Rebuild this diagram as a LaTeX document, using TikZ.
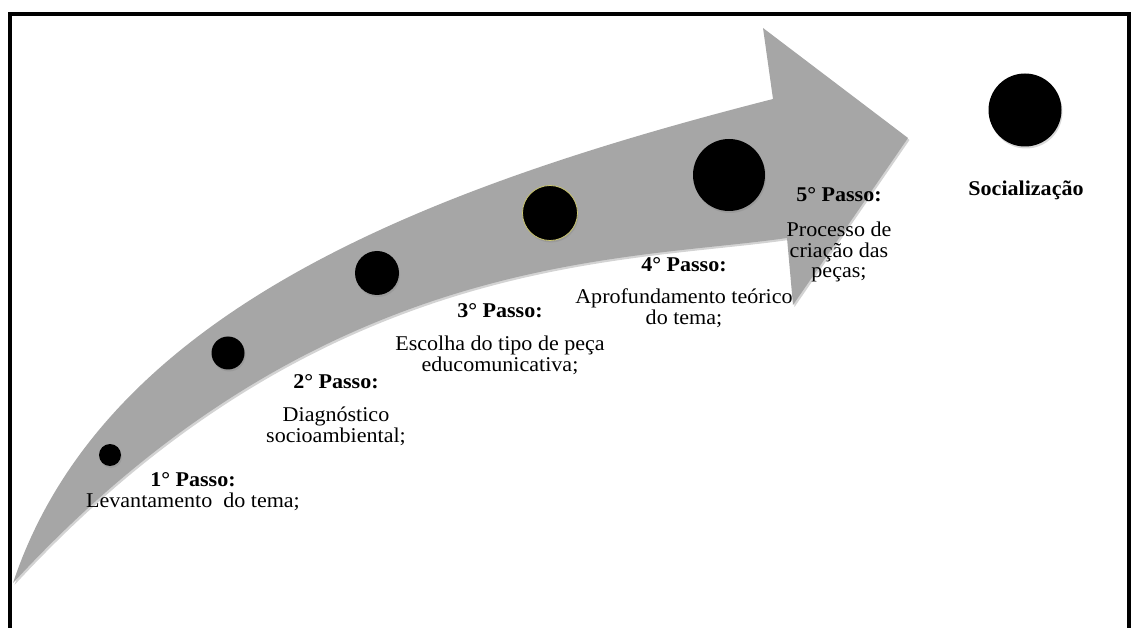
\documentclass[tikz,border=0pt]{standalone}
\usepackage{fontspec}
\setmainfont{Liberation Serif}[FakeStretch=1.05]
\usetikzlibrary{shadows}
\definecolor{band}{HTML}{A6A6A6}

\begin{document}
\begin{tikzpicture}[x=1pt,y=-1pt,
    dot/.style={circle,fill=black,inner sep=0pt,
      drop shadow={opacity=.3,shadow xshift=1pt,shadow yshift=-2pt}},
    passo/.style={align=center,inner sep=0pt,anchor=north,
      font=\fontsize{21}{20.5}\selectfont}]
  \useasboundingbox (0,0) rectangle (1136,628);
  % frame
  \draw[line width=4pt] (10,628) -- (10,14.5) -- (1129,14.5) -- (1129,628);
  % curved arrow
  \fill[band,drop shadow={opacity=.35,shadow xshift=1.5pt,shadow yshift=-2pt}]
    (13,583) .. controls (103,313) and (420,189) .. (773,99)
    -- (763,28) -- (908,138) -- (793,305) -- (787,238)
    .. controls (620,262) and (320,250) .. (13,583) -- cycle;
  % steps on the arrow
  \node[dot,minimum size=22] (s1) at (110,455) {};
  \node[dot,minimum size=33] (s2) at (228,353) {};
  \node[dot,minimum size=44] (s3) at (377,273) {};
  \node[dot,minimum size=55,draw=olive!45,line width=.8pt] (s4) at (550,213) {};
  \node[dot,minimum size=72] (s5) at (729,175) {};
  \node[dot,minimum size=73] (s6) at (1025,110) {};
  % labels
  \node[passo] (p1) at (193,472.8) {\textbf{1° Passo:}\\Levantamento\ \ do tema;};
  \node[passo] (p2) at (336,374.8) {\textbf{2° Passo:}\\[12.5pt]Diagnóstico\\socioambiental;};
  \node[passo] (p3) at (500,303.8) {\textbf{3° Passo:}\\[12.5pt]Escolha do tipo de peça\\educomunicativa;};
  \node[passo] (p4) at (684,257.8) {\textbf{4° Passo:}\\[11.5pt]Aprofundamento teórico\\do tema;};
  \node[passo] (p5) at (839,187.8) {\textbf{5° Passo:}\\[14.5pt]Processo de\\criação das\\peças;};
  \node[passo] (soc) at (1026,180.8) {\textbf{Socialização}};
\end{tikzpicture}
\end{document}
